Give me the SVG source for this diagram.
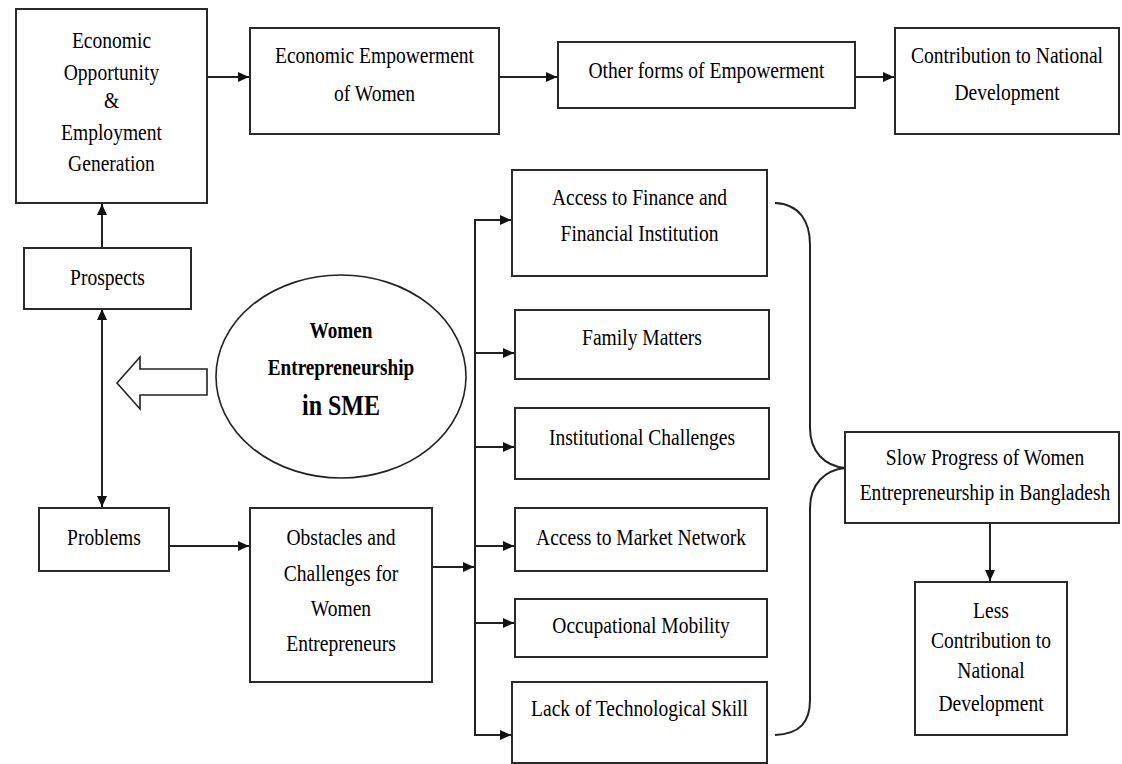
<svg xmlns="http://www.w3.org/2000/svg" width="1122" height="764" viewBox="0 0 1122 764">
<style>
.box{fill:#fff;stroke:#2a2a2a;stroke-width:2}
.t{font-family:"Liberation Serif","Times New Roman",serif;font-size:23px;fill:#000;text-anchor:middle}
.b{font-family:"Liberation Serif","Times New Roman",serif;font-weight:bold;fill:#000;text-anchor:middle}
.c{fill:none;stroke:#222;stroke-width:2}
</style>
<defs>
<marker id="ah" markerUnits="userSpaceOnUse" markerWidth="12" markerHeight="12" refX="11" refY="6" orient="auto">
<path d="M0,1 L11,6 L0,11 Z" fill="#111"/>
</marker>
<marker id="as" markerUnits="userSpaceOnUse" markerWidth="12" markerHeight="12" refX="1" refY="6" orient="auto">
<path d="M11,1 L0,6 L11,11 Z" fill="#111"/>
</marker>
</defs>
<rect width="1122" height="764" fill="#fff"/>

<g id="connectors">
<line class="c" x1="207" y1="77" x2="249" y2="77" marker-end="url(#ah)"/>
<line class="c" x1="499" y1="77" x2="557" y2="77" marker-end="url(#ah)"/>
<line class="c" x1="855" y1="77" x2="894" y2="77" marker-end="url(#ah)"/>
<line class="c" x1="102" y1="248" x2="102" y2="204" marker-end="url(#ah)"/>
<line class="c" x1="102" y1="310" x2="102" y2="507" marker-start="url(#as)" marker-end="url(#ah)"/>
<line class="c" x1="169" y1="546" x2="249" y2="546" marker-end="url(#ah)"/>
<line class="c" x1="432" y1="567" x2="474" y2="567" marker-end="url(#ah)"/>
<polyline class="c" points="511,220 475,220 475,735 511,735" />
<line class="c" x1="475" y1="220" x2="511" y2="220" marker-end="url(#ah)"/>
<line class="c" x1="475" y1="353" x2="514" y2="353" marker-end="url(#ah)"/>
<line class="c" x1="475" y1="447" x2="514" y2="447" marker-end="url(#ah)"/>
<line class="c" x1="475" y1="546" x2="514" y2="546" marker-end="url(#ah)"/>
<line class="c" x1="475" y1="623" x2="514" y2="623" marker-end="url(#ah)"/>
<line class="c" x1="475" y1="735" x2="511" y2="735" marker-end="url(#ah)"/>
<path class="c" stroke-width="1.6" d="M775,203 C800,204 810,222 810,245 L810,428 C810,452 825,466 845,468 C825,470 810,484 810,508 L810,700 C810,722 800,734 775,735"/>
<line class="c" x1="990" y1="523" x2="990" y2="581" marker-end="url(#ah)"/>
<polygon points="117,383 140,357 140,369 207,369 207,395 140,395 140,409" fill="#fff" stroke="#222" stroke-width="1.6"/>
</g>

<g id="n-econ-opp">
<rect class="box" x="16" y="9" width="191" height="194"/>
<text class="t" transform="translate(111.5 48) scale(0.85 1)">Economic</text>
<text class="t" transform="translate(111.5 80) scale(0.85 1)">Opportunity</text>
<text class="t" transform="translate(111.5 108) scale(0.85 1)">&amp;</text>
<text class="t" transform="translate(111.5 140) scale(0.85 1)">Employment</text>
<text class="t" transform="translate(111.5 171) scale(0.85 1)">Generation</text>
</g>
<g id="n-econ-emp">
<rect class="box" x="250" y="28" width="249" height="106"/>
<text class="t" transform="translate(374.5 63) scale(0.85 1)">Economic Empowerment</text>
<text class="t" transform="translate(374.5 101) scale(0.85 1)">of Women</text>
</g>
<g id="n-other">
<rect class="box" x="558" y="42" width="297" height="66"/>
<text class="t" transform="translate(706.5 78) scale(0.85 1)">Other forms of Empowerment</text>
</g>
<g id="n-contrib">
<rect class="box" x="895" y="28" width="224" height="106"/>
<text class="t" transform="translate(1007 63) scale(0.85 1)">Contribution to National</text>
<text class="t" transform="translate(1007 100) scale(0.85 1)">Development</text>
</g>
<g id="n-prospects">
<rect class="box" x="24" y="248" width="167" height="61"/>
<text class="t" transform="translate(107.5 285) scale(0.85 1)">Prospects</text>
</g>
<g id="n-women">
<ellipse cx="341" cy="376.5" rx="125" ry="101.5" fill="#fff" stroke="#222" stroke-width="1.6"/>
<text class="b" font-size="24" transform="translate(341 338) scale(0.8 1)">Women</text>
<text class="b" font-size="24" transform="translate(341 375) scale(0.8 1)">Entrepreneurship</text>
<text class="b" font-size="30" transform="translate(341 415) scale(0.8 1)">in SME</text>
</g>
<g id="n-problems">
<rect class="box" x="39" y="508" width="130" height="63"/>
<text class="t" transform="translate(104 545) scale(0.85 1)">Problems</text>
</g>
<g id="n-obstacles">
<rect class="box" x="250" y="508" width="182" height="174"/>
<text class="t" transform="translate(341 545) scale(0.85 1)">Obstacles and</text>
<text class="t" transform="translate(341 581) scale(0.85 1)">Challenges for</text>
<text class="t" transform="translate(341 616) scale(0.85 1)">Women</text>
<text class="t" transform="translate(341 651) scale(0.85 1)">Entrepreneurs</text>
</g>
<g id="n-finance">
<rect class="box" x="512" y="170" width="255" height="106"/>
<text class="t" transform="translate(639.5 205) scale(0.85 1)">Access to Finance and</text>
<text class="t" transform="translate(639.5 241) scale(0.85 1)">Financial Institution</text>
</g>
<g id="n-family">
<rect class="box" x="515" y="310" width="254" height="69"/>
<text class="t" transform="translate(642 345) scale(0.85 1)">Family Matters</text>
</g>
<g id="n-institutional">
<rect class="box" x="515" y="408" width="254" height="71"/>
<text class="t" transform="translate(642 445) scale(0.85 1)">Institutional Challenges</text>
</g>
<g id="n-market">
<rect class="box" x="515" y="508" width="252" height="63"/>
<text class="t" transform="translate(641 545) scale(0.85 1)">Access to Market Network</text>
</g>
<g id="n-mobility">
<rect class="box" x="515" y="599" width="252" height="58"/>
<text class="t" transform="translate(641 633) scale(0.85 1)">Occupational Mobility</text>
</g>
<g id="n-tech">
<rect class="box" x="512" y="682" width="255" height="81"/>
<text class="t" transform="translate(639.5 716) scale(0.85 1)">Lack of Technological Skill</text>
</g>
<g id="n-slow">
<rect class="box" x="845" y="432" width="274" height="91"/>
<text class="t" transform="translate(985 465) scale(0.85 1)">Slow Progress of Women</text>
<text class="t" transform="translate(985 500) scale(0.85 1)">Entrepreneurship in Bangladesh</text>
</g>
<g id="n-less">
<rect class="box" x="915" y="582" width="152" height="153"/>
<text class="t" transform="translate(991 618) scale(0.85 1)">Less</text>
<text class="t" transform="translate(991 648) scale(0.85 1)">Contribution to</text>
<text class="t" transform="translate(991 678) scale(0.85 1)">National</text>
<text class="t" transform="translate(991 711) scale(0.85 1)">Development</text>
</g>
</svg>
